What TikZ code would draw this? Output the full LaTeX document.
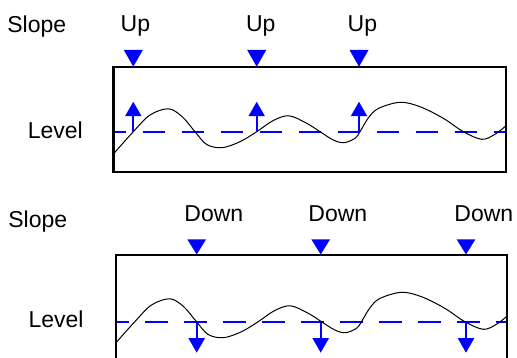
\documentclass[tikz,border=0pt]{standalone}
\usepackage{fontspec}
\setmainfont{Liberation Sans}
\usetikzlibrary{arrows.meta}
\tikzset{
  lbl/.style={anchor=base west, inner sep=0pt, font=\fontsize{23}{27}\selectfont},
  frame/.style={line width=2.2pt},
  signal/.style={line width=1pt},
  level/.style={blue, line width=2.3pt, dash pattern=on 22.5pt off 16.5pt, dash phase=10pt},
  trig/.style={blue, line width=2pt, -{Triangle[width=16pt,length=14.5pt]}},
  marker/.style={fill=blue}
}
\newcommand{\signalline}{%
  \draw[signal] plot[smooth, tension=0.55] coordinates {
    (114,153.3) (133.3,131.7) (150,115) (168.3,108.8) (182,116.5) (195,131.7)
    (206.7,144.5) (222,147.7) (240,141.7) (256.7,131.7) (273.3,120.5) (289,115.8)
    (306.7,123.3) (320,131.7) (333.3,140) (344,142.7) (355,138.3) (360,131.7)
    (368.3,118) (378.3,108.5) (400,102.3) (420,106.7) (443.3,118.3) (463.3,131.7)
    (481.7,139.3) (495,134.3) (506,125.7)};}
\begin{document}
\begin{tikzpicture}[x=1pt, y=-1pt]
  \useasboundingbox (0,0) rectangle (517,358);
  \clip (0,0) rectangle (517,358);

  % upper panel: rising slope
  \node[lbl] (slopeA) at (7.2,32.3) {Slope};
  \node[lbl] (upA) at (120.5,31.7) {Up};
  \node[lbl] (upB) at (245.9,31.7) {Up};
  \node[lbl] (upC) at (347.5,31.7) {Up};
  \node[lbl] (levelA) at (27.6,138.3) {Level};
  \draw[level] (113.5,131.7) -- (505.7,131.7);
  \signalline
  \draw[frame] (113.5,66.7) rectangle (505.7,172.3);
  \foreach \x in {133.3, 256.7, 359} {
    \fill[marker] (\x-9.5,50) -- (\x+9.5,50) -- (\x,66.7) -- cycle;
    \coordinate (cross) at (\x,131.7);
    \coordinate (tip) at (\x,101.7);
    \draw[trig] (cross) -- (tip);
  }

  % lower panel: falling slope
  \node[lbl] (slopeB) at (8.2,227.3) {Slope};
  \node[lbl] (downA) at (184.2,221.7) {Down};
  \node[lbl] (downB) at (308.2,221.7) {Down};
  \node[lbl] (downC) at (454.2,221.7) {Down};
  \node[lbl] (levelB) at (28.3,327.3) {Level};
  \draw[level] (116,321.7) -- (507.3,321.7);
  \begin{scope}[shift={(1.5,190)}]
    \signalline
  \end{scope}
  \draw[frame] (116,370) -- (116,255.3) -- (507.3,255.3) -- (507.3,370);
  \foreach \x in {196.7, 320.7, 466} {
    \fill[marker] (\x-9.4,239.3) -- (\x+9.4,239.3) -- (\x,254.5) -- cycle;
    \coordinate (cross) at (\x,321.7);
    \coordinate (tip) at (\x,352.7);
    \draw[trig] (cross) -- (tip);
  }
\end{tikzpicture}
\end{document}
